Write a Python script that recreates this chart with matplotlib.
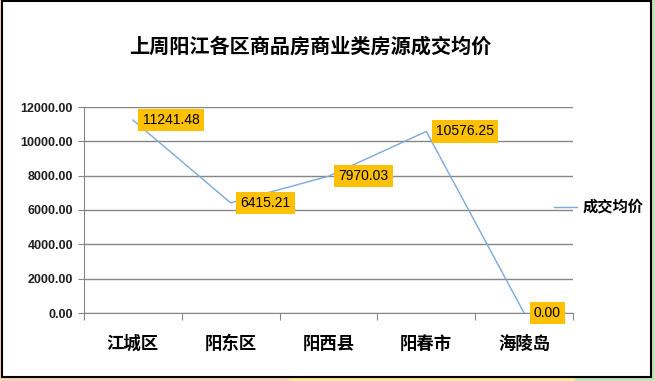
import matplotlib.pyplot as plt
from matplotlib.patches import Rectangle

plt.rcParams['font.family'] = ['Noto Sans CJK SC', 'DejaVu Sans']

# data
districts = ['江城区', '阳东区', '阳西县', '阳春市', '海陵岛']
avg_price = [11241.48, 6415.21, 7970.03, 10576.25, 0.00]
yticks = [0, 2000, 4000, 6000, 8000, 10000, 12000]

W, H = 655, 381
fig = plt.figure(figsize=(W / 100, H / 100), dpi=100)
fig.patch.set_facecolor('white')

# coloured strips around the chart frame
def px_rect(x0, y0, x1, y1, **kw):
    fig.patches.append(Rectangle((x0 / W, 1 - y1 / H), (x1 - x0) / W, (y1 - y0) / H,
                                 transform=fig.transFigure, figure=fig, **kw))

px_rect(0, 0, 2, H, facecolor='#FBD4B4', edgecolor='none')
px_rect(0, 377, 290, H, facecolor='#FBD4B4', edgecolor='none')
px_rect(290, 377, 575, H, facecolor='#FFE699', edgecolor='none')
px_rect(575, 377, W, H, facecolor='#C5E0B4', edgecolor='none')
px_rect(651, 0, W, H, facecolor='#C5E0B4', edgecolor='none')
px_rect(2, 0.5, 651, 377, facecolor='none', edgecolor='black', linewidth=1.5)

# plot area in pixels: x 84..573, y 107..313
ax = fig.add_axes([84 / W, 1 - 313 / H, (573 - 84) / W, (313 - 107) / H])
ax.set_facecolor('none')

x = list(range(len(districts)))
line, = ax.plot(x, avg_price, color='#7BA9D9', linewidth=1, label='成交均价')

ax.set_xlim(-0.5, len(districts) - 0.5)
ax.set_ylim(0, 12000)
ax.set_yticks(yticks)
ax.set_yticklabels([f'{v:.2f}' for v in yticks], fontsize=9, fontweight='bold',
                   family=['Liberation Sans', 'DejaVu Sans'], color='#1F1F1F')
ax.yaxis.grid(True, color='#868686', linewidth=1)
ax.set_axisbelow(True)

ax.set_xticks([i - 0.5 for i in range(len(districts) + 1)], minor=False)
ax.set_xticklabels([])
ax.set_xticks(x, minor=True)
ax.set_xticklabels(districts, minor=True, fontsize=12.5, fontweight='bold')
ax.tick_params(axis='x', which='major', length=5, color='#868686')
ax.tick_params(axis='x', which='minor', length=0, pad=16)
ax.tick_params(axis='y', length=4, color='#868686', pad=4)

for s in ['top', 'right']:
    ax.spines[s].set_visible(False)
for s in ['left', 'bottom']:
    ax.spines[s].set_color('#868686')

for xi, v in zip(x, avg_price):
    ax.annotate(f'{v:.2f}', (xi, v), xytext=(7, 0), textcoords='offset points',
                ha='left', va='center', fontsize=10,
                family=['Liberation Sans', 'DejaVu Sans'],
                bbox=dict(boxstyle='square,pad=0.3', facecolor='#FFC000', edgecolor='none'))

fig.text(310 / W, 1 - 46 / H, '上周阳江各区商品房商业类房源成交均价',
         ha='center', va='center', fontsize=14.5, fontweight='bold')

fig.legend(handles=[line], loc='center left', bbox_to_anchor=(540 / W, 1 - 207 / H),
           frameon=False, handlelength=1.5, handletextpad=0.4,
           prop={'size': 11, 'weight': 'bold', 'family': ['Noto Sans CJK SC', 'DejaVu Sans']})

fig.savefig('out.png', dpi=100)
